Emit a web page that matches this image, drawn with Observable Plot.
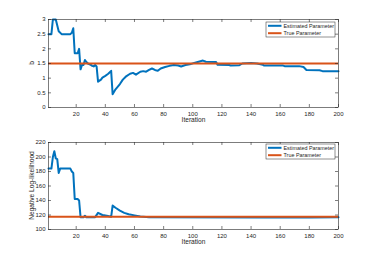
<!DOCTYPE html>
<html><head><meta charset="utf-8">
<script src="https://cdn.jsdelivr.net/npm/d3@7"></script>
<script src="https://cdn.jsdelivr.net/npm/@observablehq/plot@0.6"></script>
<style>
body{margin:0;background:#fff}
#c{width:374px;height:258px}
svg{display:block}
</style>
</head><body><div id="c"></div>
<script>
// Top panel: parameter b
const iterB = [1,3,4,6,8,10,16,17,18,19,21,22,23,24,25,26,27,28,30,31,32,33,34,35,37,38,40,42,44,45,47,50,52,54,57,59,61,64,66,68,70,72,74,76,78,81,84,87,90,92,95,98,101,104,107,109,116,117,125,126,132,134,140,144,148,149,162,163,173,176,178,187,189,200];
const estB  = [2.5,2.5,3.0,3.0,2.6,2.5,2.5,2.55,2.7,1.85,1.85,2.0,1.3,1.45,1.45,1.62,1.55,1.5,1.45,1.42,1.4,1.45,1.4,0.88,0.95,1.02,1.08,1.15,1.25,0.45,0.62,0.8,0.95,1.05,1.15,1.18,1.12,1.22,1.24,1.22,1.28,1.33,1.28,1.25,1.33,1.38,1.42,1.45,1.43,1.4,1.45,1.47,1.52,1.56,1.6,1.56,1.55,1.46,1.45,1.43,1.44,1.5,1.52,1.5,1.46,1.43,1.43,1.41,1.41,1.38,1.28,1.27,1.24,1.24];
const trueB = 1.5;
// Bottom panel: negative log-likelihood
const iterL = [1,3,4,5,6,7,8,9,16,17,18,19,21,22,23,25,26,27,33,35,38,41,44,45,47,50,53,56,60,64,70,150,180,200];
const estL  = [184,184,200,208,198,197,178,184,184,180,178,142,142,140,117,117,119,117,117,123,120,119,117.5,133,130,126,123,121,119.5,118,117,116.5,116.5,117];
const trueL = 117.5;

const xTicks = [20,40,60,80,100,120,140,160,180,200];
const bTicks = [0,0.5,1,1.5,2,2.5,3];
const lTicks = [100,120,140,160,180,200,220];
const legendLabels = ["Estimated Parameter","True Parameter"];
const colors = ["#0072BD","#D95319"];
const axisColor = "#262626";

function panel({iters, est, truth, yDomain, yTicks, yLabel, mt, mb, legY}) {
  const H = 129, W = 374, ml = 48, mr = 36;
  const ih = H - mt - mb, iw = W - ml - mr;
  const data = iters.map((x, i) => ({x, y: est[i]}));
  const tl = 3;
  const svg = Plot.plot({
    width: W, height: H,
    marginLeft: ml, marginRight: mr, marginTop: mt, marginBottom: mb,
    style: {fontFamily: "Liberation Sans, Arial, sans-serif", color: axisColor, background: "#fff"},
    x: {domain: [1, 200]},
    y: {domain: yDomain},
    marks: [
      Plot.lineY(data, {x: "x", y: "y", stroke: colors[0], strokeWidth: 2}),
      Plot.ruleY([truth], {stroke: colors[1], strokeWidth: 2}),
      Plot.frame({stroke: axisColor, strokeWidth: 0.6}),
      Plot.tickX(xTicks, {x: d => d, insetTop: ih - tl, stroke: axisColor, strokeWidth: 0.6}),
      Plot.tickX(xTicks, {x: d => d, insetBottom: ih - tl, stroke: axisColor, strokeWidth: 0.6}),
      Plot.tickY(yTicks, {y: d => d, insetRight: iw - tl, stroke: axisColor, strokeWidth: 0.6}),
      Plot.tickY(yTicks, {y: d => d, insetLeft: iw - tl, stroke: axisColor, strokeWidth: 0.6}),
      Plot.axisX(xTicks, {anchor: "bottom", tickSize: 0, tickPadding: 4, fontSize: 6, label: "Iteration", labelAnchor: "center", labelArrow: "none", labelOffset: 14, fill: axisColor}),
      Plot.axisY(yTicks, {anchor: "left", tickSize: 0, tickPadding: 3, fontSize: 6, tickFormat: d => String(d), label: null, fill: axisColor})
    ]
  });
  const s = d3.select(svg);
  s.selectAll("[aria-label='x-axis label'] text").attr("font-size", 6.6);
  // y label
  s.append("text").attr("transform", `translate(32,${mt + ih / 2}) rotate(-90)`)
    .attr("text-anchor", "middle").attr("font-size", 6.6).attr("fill", axisColor)
    .attr("dy", "0.35em").text(yLabel);
  // legend
  const lx = 266, lw = 69, lh = 15;
  s.append("rect").attr("x", lx).attr("y", legY).attr("width", lw).attr("height", lh)
    .attr("fill", "#fff").attr("stroke", axisColor).attr("stroke-width", 0.5);
  legendLabels.forEach((lab, i) => {
    const yy = legY + 3.8 + i * 7.4;
    s.append("line").attr("x1", lx + 2).attr("x2", lx + 15.5).attr("y1", yy).attr("y2", yy)
      .attr("stroke", colors[i]).attr("stroke-width", 2);
    s.append("text").attr("x", lx + 17.5).attr("y", yy).attr("dy", "0.35em")
      .attr("text-anchor", "start")
      .attr("font-size", 5.4).attr("fill", axisColor).text(lab);
  });
  return svg;
}

const c = document.getElementById("c");
c.appendChild(panel({iters: iterB, est: estB, truth: trueB, yDomain: [0, 3], yTicks: bTicks, yLabel: "b", mt: 19, mb: 22, legY: 22}));
c.appendChild(panel({iters: iterL, est: estL, truth: trueL, yDomain: [100, 220], yTicks: lTicks, yLabel: "Negative Log-likelihood", mt: 13, mb: 29, legY: 15}));
</script>
</body></html>
